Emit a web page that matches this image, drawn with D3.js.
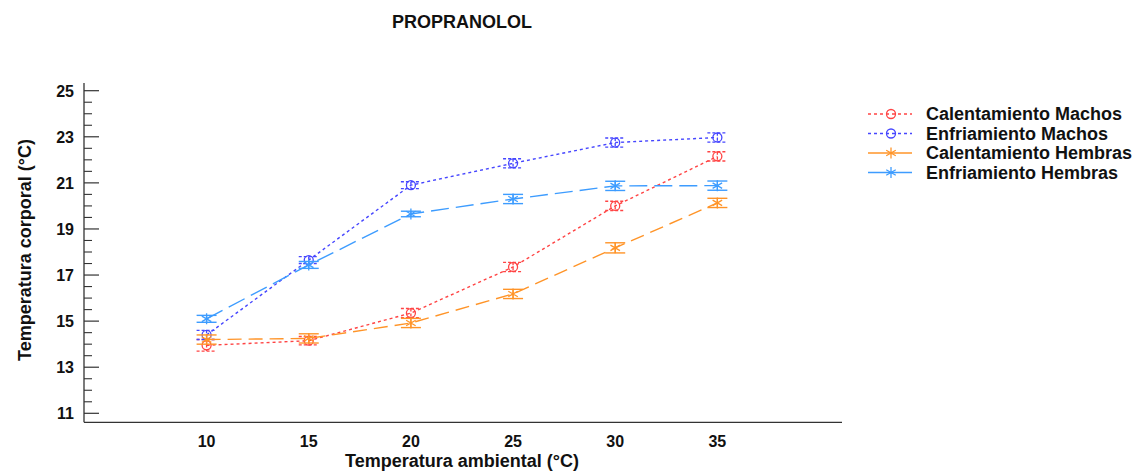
<!DOCTYPE html>
<html>
<head>
<meta charset="utf-8">
<script src="https://cdn.jsdelivr.net/npm/d3@7/dist/d3.min.js"></script>
<style>
  html, body { margin: 0; padding: 0; background: #fff; }
  svg { display: block; font-family: "Liberation Sans", Arial, sans-serif; font-weight: bold; }
</style>
</head>
<body>
<svg id="chart" width="1137" height="471"></svg>
<script>
// Ambient temperatures (x) and body temperature means with half-width error bars
const ambient = [10, 15, 20, 25, 30, 35];
const yTicks = [11, 13, 15, 17, 19, 21, 23, 25];

const calMachos = [13.95, 14.15, 15.35, 17.35, 20.0, 22.15];
const enfMachos = [14.4, 17.65, 20.9, 21.85, 22.75, 22.97];
const calHembras = [14.2, 14.25, 14.92, 16.18, 18.18, 20.13];
const enfHembras = [15.1, 17.44, 19.65, 20.3, 20.87, 20.88];

const errCalMachos = [0.25, 0.18, 0.2, 0.2, 0.2, 0.2];
const errEnfMachos = [0.2, 0.15, 0.15, 0.2, 0.2, 0.2];
const errCalHembras = [0.2, 0.2, 0.2, 0.2, 0.22, 0.2];
const errEnfHembras = [0.15, 0.15, 0.12, 0.2, 0.2, 0.2];

const seriesNames = ["Calentamiento Machos", "Enfriamiento Machos", "Calentamiento Hembras", "Enfriamiento Hembras"];

const series = [
  { name: seriesNames[0], values: calMachos, err: errCalMachos, color: "#ff4444", dash: "3,3", marker: "circle" },
  { name: seriesNames[1], values: enfMachos, err: errEnfMachos, color: "#4646ff", dash: "3,3", marker: "circle" },
  { name: seriesNames[2], values: calHembras, err: errCalHembras, color: "#ff9428", dash: "14,7", marker: "star" },
  { name: seriesNames[3], values: enfHembras, err: errEnfHembras, color: "#3d9cff", dash: "18,7", marker: "star" }
];

const svg = d3.select("#chart");
const x = d3.scaleLinear().domain([4, 41.1]).range([84, 842]);
const y = d3.scaleLinear().domain([11, 25]).range([413.3, 90.7]);
const axisColor = "#333";

// Title
svg.append("text").attr("x", 462).attr("y", 28).attr("text-anchor", "middle")
  .attr("font-size", 18).attr("fill", "#111").text("PROPRANOLOL");

// Y axis: inward major ticks every 2, minor every 0.5
const yAxisG = svg.append("g");
yAxisG.append("line").attr("x1", 84).attr("x2", 84).attr("y1", 83).attr("y2", 422.3)
  .attr("stroke", axisColor).attr("stroke-width", 1.3);
const minor = d3.range(11, 25.01, 0.5).filter(v => !yTicks.includes(v));
yAxisG.selectAll("line.minor").data(minor).join("line").attr("class", "minor")
  .attr("x1", 84).attr("x2", 92).attr("y1", d => y(d)).attr("y2", d => y(d))
  .attr("stroke", axisColor).attr("stroke-width", 1.1);
yAxisG.selectAll("line.major").data(yTicks).join("line").attr("class", "major")
  .attr("x1", 84).attr("x2", 99).attr("y1", d => y(d)).attr("y2", d => y(d))
  .attr("stroke", axisColor).attr("stroke-width", 1.2);
yAxisG.selectAll("text").data(yTicks).join("text")
  .attr("x", 74).attr("y", d => y(d) + 6).attr("text-anchor", "end")
  .attr("font-size", 16).attr("fill", "#111").text(d => d);

// X axis: line with labels only
const xAxisG = svg.append("g");
xAxisG.append("line").attr("x1", 84).attr("x2", 842).attr("y1", 422.3).attr("y2", 422.3)
  .attr("stroke", axisColor).attr("stroke-width", 1.3);
xAxisG.selectAll("text").data(ambient).join("text")
  .attr("x", d => x(d)).attr("y", 447).attr("text-anchor", "middle")
  .attr("font-size", 16).attr("fill", "#111").text(d => d);

// Axis titles
svg.append("text").attr("x", 462).attr("y", 466.5).attr("text-anchor", "middle")
  .attr("font-size", 18).attr("fill", "#111").text("Temperatura ambiental (°C)");
svg.append("text").attr("transform", "translate(31,250) rotate(-90)").attr("text-anchor", "middle")
  .attr("font-size", 18).attr("fill", "#111").text("Temperatura corporal (°C)");

// Marker drawing
function starPath(r) {
  let p = "";
  for (let k = 0; k < 3; k++) {
    const a = Math.PI / 2 + k * Math.PI / 3;
    const dx = r * Math.cos(a), dy = r * Math.sin(a);
    p += `M${-dx},${-dy}L${dx},${dy}`;
  }
  return p;
}
function drawMarker(g, s, cx, cy) {
  if (s.marker === "circle") {
    g.append("circle").attr("cx", cx).attr("cy", cy).attr("r", 4.5)
      .attr("fill", "none").attr("stroke", s.color).attr("stroke-width", 1.3);
  } else {
    g.append("path").attr("d", starPath(5.5)).attr("transform", `translate(${cx},${cy})`)
      .attr("fill", "none").attr("stroke", s.color).attr("stroke-width", 1.3);
  }
}

const line = d3.line().x((d, i) => x(ambient[i])).y(d => y(d));
const capW = 10;

series.forEach(s => {
  const g = svg.append("g");
  const errDash = s.marker === "circle" ? "3,2" : null;
  // connecting line
  g.append("path").datum(s.values).attr("d", line).attr("fill", "none")
    .attr("stroke", s.color).attr("stroke-width", 1.4).attr("stroke-dasharray", s.dash);
  // error bars
  s.values.forEach((v, i) => {
    const cx = x(ambient[i]);
    const y1 = y(v + s.err[i]), y2 = y(v - s.err[i]);
    g.append("line").attr("x1", cx).attr("x2", cx).attr("y1", y1).attr("y2", y2)
      .attr("stroke", s.color).attr("stroke-width", 1.3).attr("stroke-dasharray", errDash);
    [y1, y2].forEach(yy => {
      g.append("line").attr("x1", cx - capW).attr("x2", cx + capW).attr("y1", yy).attr("y2", yy)
        .attr("stroke", s.color).attr("stroke-width", 1.4).attr("stroke-dasharray", errDash);
    });
    drawMarker(g, s, cx, y(v));
  });
});

// Legend
const legendRows = [114, 133.5, 153, 172.5];
series.forEach((s, i) => {
  const g = svg.append("g");
  const ly = legendRows[i];
  g.append("line").attr("x1", 868).attr("x2", 912).attr("y1", ly).attr("y2", ly)
    .attr("stroke", s.color).attr("stroke-width", 1.4)
    .attr("stroke-dasharray", s.marker === "circle" ? "3,3" : null);
  drawMarker(g, s, 891, ly);
  g.append("text").attr("x", 926).attr("y", ly + 6).attr("font-size", 18)
    .attr("fill", "#111").text(s.name);
});
</script>
</body>
</html>
